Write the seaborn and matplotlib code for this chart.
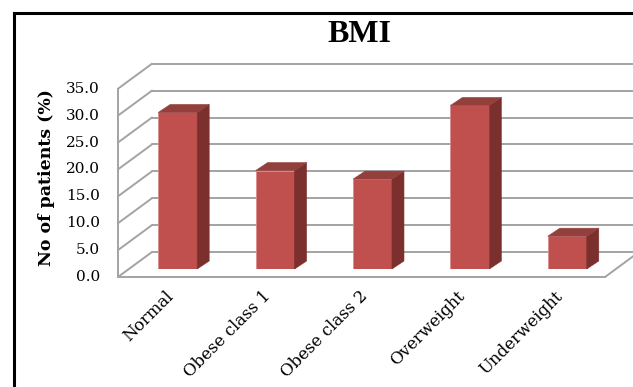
import matplotlib
matplotlib.use("Agg")
import matplotlib.pyplot as plt
import seaborn as sns
from matplotlib.patches import Polygon
from matplotlib.lines import Line2D

# Data
categories = ["Normal", "Obese class 1", "Obese class 2", "Overweight", "Underweight"]
patients_pct = [29.1, 18.3, 16.7, 30.4, 6.1]
y_ticks = [0, 5, 10, 15, 20, 25, 30, 35]

sns.set_style("white")
plt.rcParams["font.family"] = ["DejaVu Serif"]
plt.rcParams["text.color"] = "black"

W, H = 633, 387
fig = plt.figure(figsize=(W / 100, H / 100), dpi=100)
ax = fig.add_axes([129 / W, 1 - 269 / H, 487 / W, 188.3 / H])

# Front faces of the bars
sns.barplot(x=categories, y=patients_pct, color="#C0504D", saturation=1, width=0.4,
            edgecolor="#D98E8C", linewidth=0.6, ax=ax, zorder=3)
ax.set_xlim(-0.5, 4.5)
ax.set_ylim(0, 35)
ax.axis("off")

# pixel offsets for the fake 3D depth
FRONT = (-11, -8)
BACK = (23, 17)
BAR = (12, 8)


def shift(x, y, d):
    px, py = ax.transData.transform((x, y))
    return ax.transData.inverted().transform((px + d[0], py + d[1]))


def seg(p, q, **kw):
    ax.add_line(Line2D([p[0], q[0]], [p[1], q[1]], clip_on=False, **kw))


grid_kw = dict(color="#A3A3A3", lw=1.4, zorder=1)

# back wall gridlines and left wall
for t in y_ticks:
    seg(shift(-0.5, t, BACK), shift(4.9, t, BACK), **grid_kw)
    seg(shift(-0.5, t, FRONT), shift(-0.5, t, BACK), **grid_kw)
seg(shift(-0.5, 0, FRONT), shift(-0.5, 35, FRONT), **grid_kw)

# floor
seg(shift(-0.5, 0, FRONT), shift(4.5, 0, FRONT), **grid_kw)
seg(shift(4.5, 0, FRONT), shift(4.5, 0, BACK), **grid_kw)

# side and top faces of the bars
for i, v in enumerate(patients_pct):
    side = [(i + 0.2, 0), (i + 0.2, v), shift(i + 0.2, v, BAR), shift(i + 0.2, 0, BAR)]
    top = [(i - 0.2, v), (i + 0.2, v), shift(i + 0.2, v, BAR), shift(i - 0.2, v, BAR)]
    ax.add_patch(Polygon(side, closed=True, facecolor="#7B302E", edgecolor="#7B302E",
                         lw=0.4, zorder=3, clip_on=False))
    ax.add_patch(Polygon(top, closed=True, facecolor="#93403D", edgecolor="#93403D",
                         lw=0.4, zorder=3, clip_on=False))

# y tick labels on the front edge of the left wall
for t in y_ticks:
    x, y = shift(-0.5, t, (FRONT[0] - 18, FRONT[1]))
    ax.text(x, y, f"{t:.1f}", ha="right", va="center", fontsize=11, clip_on=False)

# rotated category labels
for i, name in enumerate(categories):
    x, y = shift(i, 0, (-7, -25))
    ax.text(x, y, name, rotation=45, ha="right", va="center", rotation_mode="anchor",
            fontsize=12, clip_on=False)

fig.text(359 / W, 1 - 34 / H, "BMI", fontsize=23, fontweight="bold",
         family=["Liberation Serif", "DejaVu Serif"], ha="center", va="center")
fig.text(47 / W, 1 - 177.5 / H, "No of patients (%)", rotation=90, fontsize=12.5,
         fontweight="bold", ha="center", va="center")

# chart border (right and bottom sides fall outside the picture)
fig.add_artist(Line2D([14 / W, 14 / W], [0, 1 - 13 / H], transform=fig.transFigure,
                      color="black", lw=2.2, solid_capstyle="projecting"))
fig.add_artist(Line2D([14 / W, 1], [1 - 13 / H, 1 - 13 / H], transform=fig.transFigure,
                      color="black", lw=2.2, solid_capstyle="projecting"))

fig.savefig("out.png", dpi=100)
